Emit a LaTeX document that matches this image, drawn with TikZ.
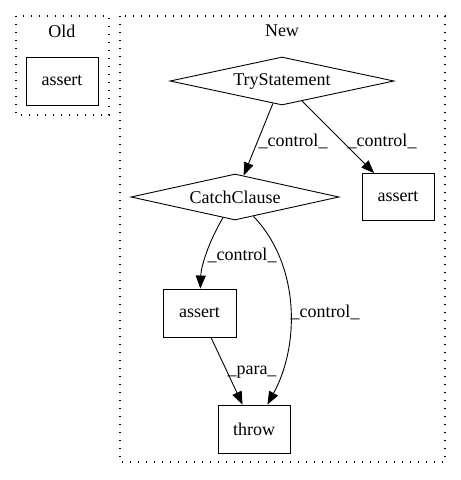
\documentclass[tikz,border=0pt]{standalone}
\usepackage{fontspec}
\setmainfont{Liberation Serif}
\usetikzlibrary{shapes.geometric,arrows.meta}
\begin{document}
\begin{tikzpicture}[x=1pt,y=-1pt,
  font=\fontsize{18}{20}\selectfont,
  every node/.style={inner sep=0pt},
  box/.style={draw,line width=0.9pt,minimum width=72pt,minimum height=48pt},
  dia/.style={draw,diamond,line width=0.9pt,aspect=4.6},
  cluster/.style={draw,line width=1.5pt,dash pattern=on 1.4pt off 6.6pt},
  arr/.style={line width=0.9pt,-{Triangle[length=13pt,width=10pt]}},
  lbl/.style={anchor=center}]
\useasboundingbox (0,0) rectangle (461,480);
% clusters
\draw[cluster] (16,16) rectangle (109,115);
\draw[cluster] (120,16) rectangle (445,462);
\node (oldt) at (62,31) {Old};
\node (newt) at (282,31) {New};
% nodes
\node[box] (olda) at (62,81) {assert};
\node[dia,minimum width=224pt,minimum height=48pt] (ts) at (282,81) {TryStatement};
\node[dia,minimum width=208pt,minimum height=46pt] (cc) at (235,197) {CatchClause};
\node[box,minimum height=47pt] (ar) at (398,197) {assert};
\node[box,minimum width=73pt] (am) at (199.5,313) {assert};
\node[box] (thr) at (254,429) {throw};
% edges
\draw[arr] (ts) -- (cc) node[lbl] at (293,141) {\_control\_};
\draw[arr] (ts) -- (ar) node[lbl] at (382,141) {\_control\_};
\draw[arr] (cc) .. controls (207,245) and (201,268) .. (am) node[lbl] at (242,255) {\_control\_};
\draw[arr] (cc) .. controls (300,265) and (300,345) .. (thr) node[lbl] at (325,312) {\_control\_};
\draw[arr] (am) -- (thr) node[lbl] at (252,372) {\_para\_};
\end{tikzpicture}
\end{document}
